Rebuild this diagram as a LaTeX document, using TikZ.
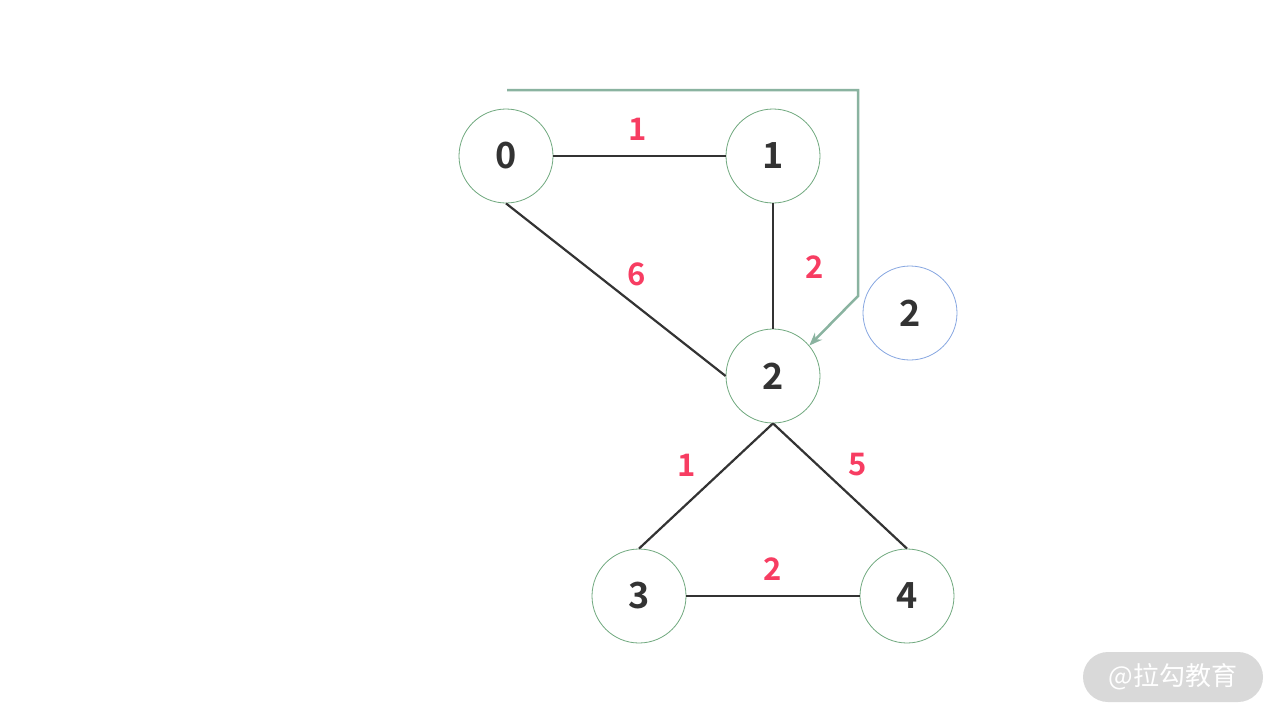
\documentclass[tikz,border=0pt]{standalone}
\usepackage{fontspec}
\setmainfont{Noto Sans CJK SC}[BoldFont={Noto Sans CJK SC Bold}]
\newfontfamily\cjkfont{Noto Sans CJK SC}
\usetikzlibrary{arrows.meta}
\definecolor{txtdark}{HTML}{333333}
\definecolor{lblred}{HTML}{F73D62}
\definecolor{ringgreen}{HTML}{6FA87E}
\definecolor{ringblue}{HTML}{86A6E0}
\definecolor{arrowgreen}{HTML}{8AB3A0}
\definecolor{wmgray}{HTML}{D9D9D9}
\tikzset{
  vertex/.style={circle, draw=ringgreen, line width=0.8pt, minimum size=94pt, inner sep=0pt,
    font=\fontsize{36}{40}\selectfont\bfseries, text=txtdark},
  bluevertex/.style={vertex, draw=ringblue},
  edge/.style={draw=txtdark, line width=2.2pt},
  weight/.style={font=\fontsize{31}{34}\selectfont\bfseries, text=lblred, inner sep=0pt},
  pointer/.style={draw=arrowgreen, line width=2.5pt, -{Stealth[length=13pt,width=10pt]}}
}
\begin{document}
\begin{tikzpicture}[x=1pt,y=-1pt]
\useasboundingbox (0,0) rectangle (1280,720);
\node[vertex] (n0) at (506,156) {0};
\node[vertex] (n1) at (773,156) {1};
\node[vertex] (n2) at (773,376) {2};
\node[vertex] (n3) at (639,596) {3};
\node[vertex] (n4) at (907,596) {4};
\node[bluevertex] (b2) at (910,313) {2};
\draw[edge] (n0.east) -- (n1.west);
\draw[edge] (n0.south) -- (n2.west);
\draw[edge] (n1.south) -- (n2.north);
\draw[edge] (n2.south) -- (n3.north);
\draw[edge] (n2.south) -- (n4.north);
\draw[edge] (n3.east) -- (n4.west);
\node[weight] (w01) at (638,129) {1};
\node[weight] (w02) at (637,274) {6};
\node[weight] (w12) at (815,267) {2};
\node[weight] (w23) at (687,465) {1};
\node[weight] (w24) at (858,465) {5};
\node[weight] (w34) at (773,569) {2};
\coordinate (pstart) at (507,90);
\coordinate (pcorner) at (858,90);
\coordinate (pbend) at (858,296);
\draw[pointer] (pstart) -- (pcorner) -- (pbend) -- (n2.40);
\node[fill=wmgray, rounded corners=25pt, minimum width=180pt, minimum height=50pt, inner sep=0pt,
  text=white, font=\cjkfont\fontsize{26}{30}\selectfont] (wm) at (1173,677) {@拉勾教育};
\end{tikzpicture}
\end{document}
